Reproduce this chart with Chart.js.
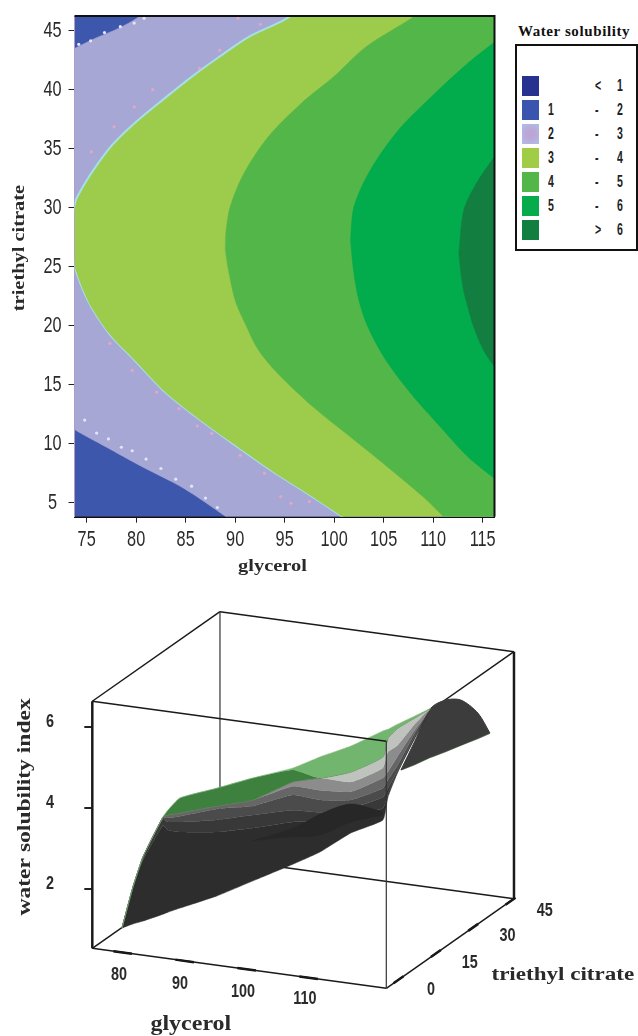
<!DOCTYPE html>
<html lang="en">
<head>
<meta charset="UTF-8">
<title>Water solubility</title>
<script src="https://cdn.jsdelivr.net/npm/chart.js"></script>
<style>
    body { margin: 0; background: #fff; width: 638px; height: 1036px; position: relative; overflow: hidden; }
    canvas { position: absolute; left: 0; }
    #contour { top: 0; }
    #surface { top: 590px; }
    #legendTitle { position: absolute; left: 510px; width: 128px; top: 23px; text-align: center; font: bold 15px "Liberation Serif", serif; letter-spacing: 0.6px; color: #111; white-space: nowrap; }
    #legend { position: absolute; left: 515px; top: 44px; width: 119px; height: 203px; border: 2px solid #111; }
    .swatch { position: absolute; left: 5px; width: 17px; height: 20px; }
    .num { position: absolute; font: bold 17px "Liberation Sans", sans-serif; color: #222; line-height: 20px; transform: scaleX(0.62); transform-origin: left center; }
</style>
</head>
<body>
<canvas id="contour" width="510" height="590"></canvas>
<canvas id="surface" width="638" height="446"></canvas>
<div id="legendTitle">Water solubility</div>
<div id="legend"></div>

<script>
    // contour plot axes
    const glycerolTicks = [75, 80, 85, 90, 95, 100, 105, 110, 115];
    const citrateTicks = [5, 10, 15, 20, 25, 30, 35, 40, 45];

    // contour boundaries, [glycerol, triethyl citrate]
    const lavenderTop = [[73, 43], [73.77, 43.45], [76.1, 44.4], [78.2, 45.15], [80.2, 46.1], [82, 47.5], [117, 60]];
    const lavenderBottom = [[73, 11.8], [73.77, 11.2], [76.9, 9.75], [80.6, 8.05], [84.75, 6.25], [89.06, 3.82], [92, 2], [117, -12]];
    const level3Top = [[73.3, 27.5], [73.5, 29], [74.05, 30.9], [77.14, 34.85], [79.8, 37.1], [83.5, 39.65], [85.6, 41.05], [88.4, 42.75], [91.3, 44.4], [95, 45.9], [98, 47.6], [117, 60]];
    const level3Bottom = [[73.3, 27.5], [73.6, 25.5], [75.1, 22.15], [77.3, 19.3], [79.8, 17.1], [82.7, 14.55], [86, 12.3], [89.7, 10.05], [93.8, 7.65], [96.7, 6.1], [100.4, 4.05], [102, 3], [117, -8]];
    const level4Top = [[89, 26.5], [89.06, 27.8], [89.5, 30.05], [90.9, 32.9], [93.37, 36], [96.67, 38.8], [99.95, 41.05], [103.24, 43.6], [107.97, 46.1], [110, 47.5], [117, 53]];
    const level4Bottom = [[89, 26.5], [89.26, 25], [90, 22.15], [91, 20.2], [92.3, 18], [94.3, 15.95], [97.9, 13.1], [101.6, 10.6], [105.3, 8.1], [109, 5.5], [111.05, 3.82], [113, 2.3], [117, -1]];
    const level5Top = [[101.65, 27.2], [102, 30.05], [103.65, 33.15], [106.5, 36.55], [109.8, 39.35], [113.5, 42.2], [116.2, 44], [117, 44.6]];
    const level5Bottom = [[101.65, 27.2], [102, 24.4], [102.5, 22.15], [103.4, 19.9], [105.2, 17.1], [107.75, 14.25], [110.65, 11.5], [113.5, 8.9], [116.2, 7.05], [117, 6.5]];
    const level6Top = [[112.6, 26.1], [113.1, 29.75], [114.35, 32], [116.2, 34.3], [117, 35.2]];
    const level6Bottom = [[112.6, 26.1], [113, 23.3], [113.5, 21.6], [114.1, 19.9], [115.1, 17.9], [116.2, 16.5], [117, 15.5]];
    const plotBaseTop = [[73, 50], [117, 50]];
    const plotBaseBottom = [[73, 0], [117, 0]];

    // specks seen along the edges of the lavender band
    const pinkSpecks = [[81.66, 39.98], [79.81, 38.51], [77.76, 36.82], [75.49, 34.7], [88.44, 43.31], [92.55, 45.5], [90.29, 46], [86.39, 41.76], [77.34, 18.49], [79.6, 16.2], [82.07, 14.37], [84.32, 12.96], [86.18, 11.5], [87.62, 10.88], [90.5, 9.02], [92.96, 7.5], [94.6, 5.52], [95.64, 4.96], [97.49, 5.1]];
    const paleSpecks = [[74.8, 12], [76, 10.9], [77.2, 10.4], [78.5, 9.7], [79.6, 9.4], [81, 8.7], [82.5, 7.9], [84, 7], [85.6, 6.4], [87, 5.4], [88.2, 4.6], [74.2, 43.8], [75.4, 44.1], [76.8, 44.8], [78.4, 45.3], [79.8, 45.6], [80.8, 46]];

    // legend
    const legendColors = ['#27318f', '#3a55ae', '#b3aadb', '#a0cc46', '#52b748', '#06ab4c', '#127f40'];
    const legendFrom = ['', '1', '2', '3', '4', '5', ''];
    const legendSign = ['<', '-', '-', '-', '-', '-', '>'];
    const legendTo = ['1', '2', '3', '4', '5', '6', '6'];

    // surface plot: box ranges
    const gMin = 75.6, gMax = 123.03, cMin = -3.9, cMax = 47.4, zMin = 0.55, zMax = 6.63;
    const indexTicks = [2, 4, 6];

    // surface columns and the colour band edges read at each column
    const surfCols = [80.39, 82.16, 83.78, 87, 87.81, 89.75, 95.71, 101.52, 107.97, 112.32, 117.32, 122.48, 123.29, 124.9, 127.64, 130.22];
    const surfTop = [1.05, 2.06, 2.8, 3.78, 3.95, 4.25, 4.49, 4.74, 4.99, 5.26, 5.53, 5.9, 5.94, 6.07, 6.27, 6.46];
    const surfLight = [1.05, 2.06, 2.8, 3.78, 3.95, 4.25, 4.49, 4.74, 4.94, 4.74, 4.89, 5.26, 5.72, 5.97, 6.22, 6.46];
    const surfGreen = [1.05, 2.06, 2.8, 3.78, 3.83, 3.88, 4.05, 4.2, 4.64, 4.74, 4.89, 5.26, 5.72, 5.97, 6.22, 6.46];
    const surfGrayA = [1.05, 2.06, 2.8, 3.78, 3.83, 3.88, 4.05, 4.2, 4.64, 4.74, 4.64, 4.99, 5.38, 5.55, 6.07, 6.46];
    const surfGrayB = [1.05, 2.06, 2.8, 3.78, 3.83, 3.88, 4.05, 4.2, 4.54, 4.44, 4.4, 4.74, 4.89, 5.28, 5.92, 6.46];
    const surfGrayC = [1.05, 2.06, 2.8, 3.78, 3.76, 3.8, 3.98, 4.05, 4.32, 4.2, 4.2, 4.49, 4.69, 5.06, 5.85, 6.46];
    const surfGrayD = [1.05, 2.06, 2.8, 3.73, 3.66, 3.66, 3.71, 3.83, 3.95, 3.9, 4, 4.27, 4.49, 4.94, 5.77, 6.46];
    const surfGrayE = [1.05, 2.06, 2.72, 3.58, 3.46, 3.41, 3.41, 3.51, 3.66, 3.66, 3.83, 4, 4.35, 4.91, 5.75, 6.46];
    const surfBottom = [1.05, 1.15, 1.22, 1.39, 1.44, 1.54, 1.84, 2.21, 2.62, 2.92, 3.39, 3.71, 4.27, 4.89, 5.72, 6.46];

    // darkest patch in the middle of the surface
    const inkCols = [101.52, 107.97, 112.32, 117.32, 122.48];
    const inkTop = [3.2, 3.5, 3.85, 4.1, 3.9];
    const inkBottom = [3.2, 3.3, 3.34, 3.66, 3.83];

    // the folded back part of the surface
    const backCols = [125.39, 127.64, 130.22, 132.64, 135.06, 137.8, 139.74];
    const backTop = [4.94, 5.65, 6.46, 6.66, 6.66, 6.34, 5.85];
    const backBottom = [4.94, 5.08, 5.26, 5.4, 5.55, 5.72, 5.85];

    // labels around the box: text, x, y
    const glycerolLabels = [['80', 79.9, -0.11], ['90', 89.74, -0.33], ['100', 99.9, -0.52], ['110', 109.9, -0.7]];
    const citrateLabels = [['0', 130.23, -0.48], ['15', 136.5, 0.19], ['30', 142.6, 0.85], ['45', 148.6, 1.47]];
    const glycerolMarks = [80, 90, 100, 110];
    const citrateMarks = [0, 15, 30, 45];

    const pts = list => list.map(p => ({ x: p[0], y: p[1] }));
    const zipPts = (xs, ys) => xs.map((x, i) => ({ x: x, y: ys[i] }));

    // legend built from the arrays
    const legend = document.getElementById('legend');
    legendColors.forEach((c, i) => {
        const top = 30 + i * 24;
        const fillStyle = i === 2 ? 'radial-gradient(circle, #bca6d6 30%, #aebfe8 100%)' : c;
        legend.innerHTML += '<div class="swatch" style="top:' + top + 'px;background:' + fillStyle + '"></div>'
            + '<div class="num" style="left:31px;top:' + top + 'px">' + legendFrom[i] + '</div>'
            + '<div class="num" style="left:78px;top:' + top + 'px">' + (legendSign[i] === '<' ? '&lt;' : legendSign[i] === '>' ? '&gt;' : legendSign[i]) + '</div>'
            + '<div class="num" style="left:100px;top:' + top + 'px">' + legendTo[i] + '</div>';
    });

    // text placed at data positions, squeezed or widened because the original type is distorted
    function textPlugin(id, items) {
        return {
            id: id,
            afterDraw(chart) {
                const { ctx, scales } = chart;
                items.forEach(t => {
                    ctx.save();
                    ctx.translate(scales.x.getPixelForValue(t.x), scales.y.getPixelForValue(t.y));
                    if (t.rotate) ctx.rotate(t.rotate);
                    ctx.scale(t.squeeze || 1, 1);
                    ctx.textAlign = 'center';
                    ctx.textBaseline = 'middle';
                    ctx.fillStyle = t.color || '#2a2a2a';
                    ctx.font = t.font;
                    ctx.fillText(t.text, 0, 0);
                    ctx.restore();
                });
            }
        };
    }

    // two curves with the band between them filled
    function band(upper, lower, color, edge) {
        return [
            { data: upper, showLine: true, fill: '+1', backgroundColor: color, borderColor: edge || color, borderWidth: edge ? 2 : 0.5, pointRadius: 0, tension: 0.3 },
            { data: lower, showLine: true, fill: false, borderColor: edge || color, borderWidth: edge ? 2 : 0.5, pointRadius: 0, tension: 0.3 }
        ];
    }

    const xLo = 73.77, xHi = 116.2, yLo = 3.82, yHi = 46.2;
    const contourFont = '22px "Liberation Sans"';
    const contourTitle = 'bold 17px "Liberation Serif"';

    const contourText = [
        ...glycerolTicks.map(v => ({ text: String(v), x: v, y: 1.85, font: contourFont, squeeze: 0.74 })),
        ...citrateTicks.map(v => ({ text: String(v), x: 71.55, y: v - 0.05, font: contourFont, squeeze: 0.74 })),
        { text: 'glycerol', x: 93.77, y: -0.43, font: contourTitle, squeeze: 1.2 },
        { text: 'triethyl citrate', x: 68.26, y: 26.56, font: contourTitle, squeeze: 1.2, rotate: -Math.PI / 2 }
    ];

    new Chart(document.getElementById('contour'), {
        type: 'scatter',
        data: {
            datasets: [
                { data: [{ x: xLo, y: yHi }, { x: xHi, y: yHi }, { x: xHi, y: yLo }], showLine: true, borderColor: '#111', borderWidth: 2, pointRadius: 0, clip: false },
                { data: pts(pinkSpecks), backgroundColor: '#e2a6c8', pointRadius: 1.6, borderWidth: 0 },
                { data: pts(paleSpecks), backgroundColor: '#dfe6f6', pointRadius: 1.6, borderWidth: 0 },
                ...band(pts(level6Top), pts(level6Bottom), '#127f40'),
                ...band(pts(level5Top), pts(level5Bottom), '#02ab4c'),
                ...band(pts(level4Top), pts(level4Bottom), '#53b649'),
                ...band(pts(level3Top), pts(level3Bottom), '#9dcb4c', '#a4e0ea'),
                ...band(pts(lavenderTop), pts(lavenderBottom), '#a6a7d5'),
                ...band(pts(plotBaseTop), pts(plotBaseBottom), '#3c57ab')
            ]
        },
        plugins: [textPlugin('contourText', contourText)],
        options: {
            responsive: false,
            animation: false,
            layout: { padding: { top: 16, right: 15.5 } },
            plugins: { legend: { display: false }, tooltip: { enabled: false } },
            scales: {
                x: {
                    type: 'linear', min: xLo, max: xHi,
                    afterFit: s => { s.height = 73.3; },
                    afterBuildTicks: s => { s.ticks = glycerolTicks.map(v => ({ value: v })); },
                    grid: { drawOnChartArea: false, tickLength: 6, color: '#222' },
                    border: { color: '#111', width: 2 },
                    ticks: { display: false }
                },
                y: {
                    type: 'linear', min: yLo, max: yHi,
                    afterFit: s => { s.width = 74.5; },
                    afterBuildTicks: s => { s.ticks = citrateTicks.map(v => ({ value: v })); },
                    grid: { drawOnChartArea: false, tickLength: 6, color: '#222' },
                    border: { color: '#d8b4cc', width: 1 },
                    ticks: { display: false }
                }
            }
        }
    });

    // oblique view of the box, the scales then place it
    const depthX = 0.4015, depthY = 0.04297, slant = 0.02075;
    function project(g, c, z) {
        return { x: g + (c - cMin) * depthX, y: z + (c - cMin) * depthY - (g - gMin) * slant };
    }
    function edge(a, b, width, color) {
        return { data: [project(...a), project(...b)], showLine: true, borderColor: color || '#1a1a1a', borderWidth: width, pointRadius: 0, clip: false };
    }

    // short thick marks along the two floor edges
    const floorMarks = [];
    glycerolMarks.forEach(g => { floorMarks.push(project(g - 1, cMin, zMin), project(g + 2, cMin, zMin), { x: null, y: null }); });
    citrateMarks.forEach(c => { floorMarks.push(project(gMax, c - 1, zMin), project(gMax, c + 3, zMin), { x: null, y: null }); });

    function surfBand(upper, color, edgeColor) {
        return { data: zipPts(surfCols, upper), showLine: true, fill: '+1', backgroundColor: color, borderColor: edgeColor || color, borderWidth: 0.5, pointRadius: 0, tension: 0.15 };
    }

    const labelFont = 'bold 18px "Liberation Sans"';
    const surfaceText = [
        ...indexTicks.map(v => ({ text: String(v), x: 68.78, y: v + 0.12, font: labelFont, squeeze: 0.8 })),
        ...glycerolLabels.concat(citrateLabels).map(l => ({ text: l[0], x: l[1], y: l[2], font: labelFont, squeeze: 0.8 })),
        { text: 'glycerol', x: 91.5, y: -1.34, font: 'bold 20px "Liberation Serif"', squeeze: 1.2 },
        { text: 'triethyl citrate', x: 151.5, y: -0.11, font: 'bold 18px "Liberation Serif"', squeeze: 1.28 },
        { text: 'water solubility index', x: 64.75, y: 4.03, font: 'bold 19px "Liberation Serif"', squeeze: 1.24, rotate: -Math.PI / 2 }
    ];

    new Chart(document.getElementById('surface'), {
        type: 'scatter',
        data: {
            datasets: [
                // front edges over the surface
                edge([gMin, cMin, zMin], [gMin, cMin, zMax], 2.5),
                edge([gMin, cMin, zMax], [gMax, cMin, zMax], 1.5),
                edge([gMax, cMin, zMin], [gMax, cMin, zMax], 1.2, '#333'),
                edge([gMin, cMin, zMin], [gMax, cMin, zMin], 1.5),
                edge([gMax, cMin, zMin], [gMax, cMax, zMin], 1.5),
                { data: floorMarks, showLine: true, borderColor: '#111', borderWidth: 2.5, pointRadius: 0, clip: false },

                // darkest patch
                { data: zipPts(inkCols, inkTop), showLine: true, fill: '+1', backgroundColor: '#272727', borderColor: '#272727', borderWidth: 0.5, pointRadius: 0, tension: 0.3 },
                { data: zipPts(inkCols, inkBottom), showLine: true, fill: false, borderColor: '#272727', borderWidth: 0.5, pointRadius: 0, tension: 0.3 },

                // surface, light bands down to dark
                surfBand(surfTop, '#72b56e', '#8fbf8a'),
                surfBand(surfLight, '#3e803e'),
                surfBand(surfGreen, '#bfc3bd', '#5e6f5e'),
                surfBand(surfGrayA, '#8c8c8c'),
                surfBand(surfGrayB, '#666666'),
                surfBand(surfGrayC, '#4b4b4b'),
                surfBand(surfGrayD, '#383838'),
                surfBand(surfGrayE, '#2d2d2d'),
                { data: zipPts(surfCols, surfBottom), showLine: true, fill: false, borderColor: '#2d2d2d', borderWidth: 0.5, pointRadius: 0, tension: 0.15 },

                // back part
                { data: zipPts(backCols, backTop), showLine: true, fill: '+1', backgroundColor: '#3c3c3c', borderColor: '#3c3c3c', borderWidth: 1, pointRadius: 0, tension: 0.3 },
                { data: zipPts(backCols, backBottom), showLine: true, fill: false, borderColor: '#4a6a4a', borderWidth: 1.5, pointRadius: 0 },

                // rear edges behind the surface
                edge([gMin, cMin, zMin], [gMin, cMax, zMin], 1.5),
                edge([gMin, cMax, zMin], [gMin, cMax, zMax], 1.2, '#333'),
                edge([gMin, cMax, zMax], [gMax, cMax, zMax], 1.5),
                edge([gMin, cMax, zMin], [gMax, cMax, zMin], 1.5),
                edge([gMin, cMin, zMax], [gMin, cMax, zMax], 1.5),
                edge([gMax, cMin, zMax], [gMax, cMax, zMax], 1.5),
                edge([gMax, cMax, zMin], [gMax, cMax, zMax], 2.5)
            ]
        },
        plugins: [textPlugin('surfaceText', surfaceText)],
        options: {
            responsive: false,
            animation: false,
            layout: { padding: { top: 21.7, right: 124, bottom: 47.7 } },
            plugins: { legend: { display: false }, tooltip: { enabled: false } },
            scales: {
                x: { type: 'linear', display: false, min: gMin, max: 143.63 },
                y: {
                    type: 'linear', min: -0.434, max: 8.834,
                    afterFit: s => { s.width = 92.3; },
                    afterBuildTicks: s => { s.ticks = indexTicks.map(v => ({ value: v })); },
                    grid: { drawOnChartArea: false, tickLength: 8, color: '#222', lineWidth: 2 },
                    border: { display: false },
                    ticks: { display: false }
                }
            }
        }
    });
</script>
</body>
</html>
